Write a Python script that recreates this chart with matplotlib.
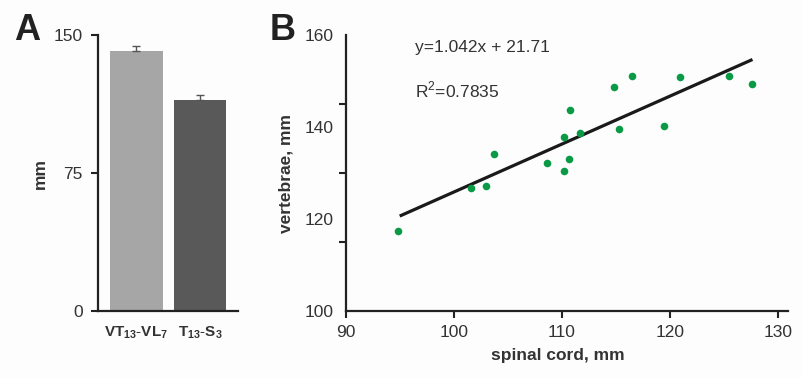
import matplotlib
matplotlib.use("Agg")
import matplotlib.pyplot as plt
import numpy as np

plt.rcParams['font.family'] = ['Liberation Sans', 'DejaVu Sans']
plt.rcParams['mathtext.fontset'] = 'custom'
plt.rcParams['mathtext.rm'] = 'Liberation Sans'
plt.rcParams['mathtext.bf'] = 'Liberation Sans:bold'

# Panel A data
bar_labels = [r'$\mathbf{VT_{13}}$-$\mathbf{VL_{7}}$', r'$\mathbf{T_{13}}$-$\mathbf{S_{3}}$']
bar_values = [141.5, 114.8]
bar_errors = [2.8, 2.4]
bar_colors = ['#a6a6a6', '#595959']

# Panel B data
spinal_cord = [94.8, 101.6, 103.0, 103.7, 108.6, 110.2, 110.6, 110.2, 110.7, 111.7,
               114.8, 115.3, 116.5, 119.4, 120.9, 125.5, 127.6]
vertebrae = [117.5, 126.7, 127.2, 134.1, 132.1, 130.5, 133.0, 137.8, 143.7, 138.8,
             148.7, 139.6, 151.2, 140.2, 150.9, 151.2, 149.3]
slope, intercept = 1.042, 21.71
fit_x = [95.1, 127.5]

fig = plt.figure(figsize=(8.03, 3.78), dpi=100)
fig.patch.set_facecolor('#fdfdfd')

txtcol = '#333333'
spcol = '#222222'
fs = 12.5

# ---- Panel A ----
axA = fig.add_axes([0.122, 0.177, 0.174, 0.730])
axA.set_facecolor('#fdfdfd')
pos = np.arange(len(bar_values))
axA.bar(pos, bar_values, width=0.83, color=bar_colors, zorder=2)
axA.errorbar(pos, bar_values, yerr=[[0, 0], bar_errors], fmt='none',
             ecolor='#555555', elinewidth=1.0, capsize=3, capthick=1.0, zorder=3)
axA.set_xlim(-0.606, 1.594)
axA.set_ylim(0, 150)
axA.set_yticks([0, 75, 150])
axA.set_xticks(pos)
axA.set_xticklabels(bar_labels, fontsize=11, color=txtcol)
axA.tick_params(axis='x', length=0, pad=10)
axA.tick_params(axis='y', length=5, width=1.5, color=spcol, labelsize=fs, labelcolor=txtcol, pad=6)
for s in ['top', 'right']:
    axA.spines[s].set_visible(False)
for s in ['left', 'bottom']:
    axA.spines[s].set_linewidth(1.6)
    axA.spines[s].set_color(spcol)
axA.set_ylabel('mm', fontsize=fs, fontweight='bold', color=txtcol, labelpad=4)

# ---- Panel B ----
axB = fig.add_axes([0.431, 0.177, 0.550, 0.730])
axB.set_facecolor('#fdfdfd')
axB.scatter(spinal_cord, vertebrae, s=30, color='#0a9a46', zorder=3, linewidths=0)
fx = np.array(fit_x)
axB.plot(fx, slope * fx + intercept, color='#1a1a1a', lw=2.3, zorder=2)
axB.set_xlim(90, 130.9)
axB.set_ylim(100, 160)
axB.set_xticks([90, 100, 110, 120, 130])
axB.set_yticks([100, 120, 140, 160])
axB.set_yticks([100, 115, 130, 145, 160], minor=True)
axB.tick_params(axis='y', which='major', length=0, labelsize=fs, labelcolor=txtcol, pad=9)
axB.tick_params(axis='y', which='minor', length=5, width=1.5, color=spcol)
axB.tick_params(axis='x', length=5, width=1.5, color=spcol, labelsize=fs, labelcolor=txtcol, pad=5)
for s in ['top', 'right']:
    axB.spines[s].set_visible(False)
for s in ['left', 'bottom']:
    axB.spines[s].set_linewidth(1.6)
    axB.spines[s].set_color(spcol)
axB.set_xlabel('spinal cord, mm', fontsize=fs, fontweight='bold', color=txtcol, labelpad=8)
axB.xaxis.set_label_coords(0.48, -0.135)
axB.set_ylabel('vertebrae, mm', fontsize=fs, fontweight='bold', color=txtcol, labelpad=8)
axB.text(96.4, 157.4, 'y=1.042x + 21.71', fontsize=fs, color=txtcol, va='center', ha='left')
axB.text(96.4, 148.0, r'R$^2$=0.7835', fontsize=fs, color=txtcol, va='center', ha='left')

# panel letters
fig.text(0.017, 0.965, 'A', fontsize=26, fontweight='bold', color='#222222', va='top', ha='left')
fig.text(0.336, 0.965, 'B', fontsize=26, fontweight='bold', color='#222222', va='top', ha='left')

fig.savefig('out.png', dpi=100, facecolor=fig.get_facecolor())
